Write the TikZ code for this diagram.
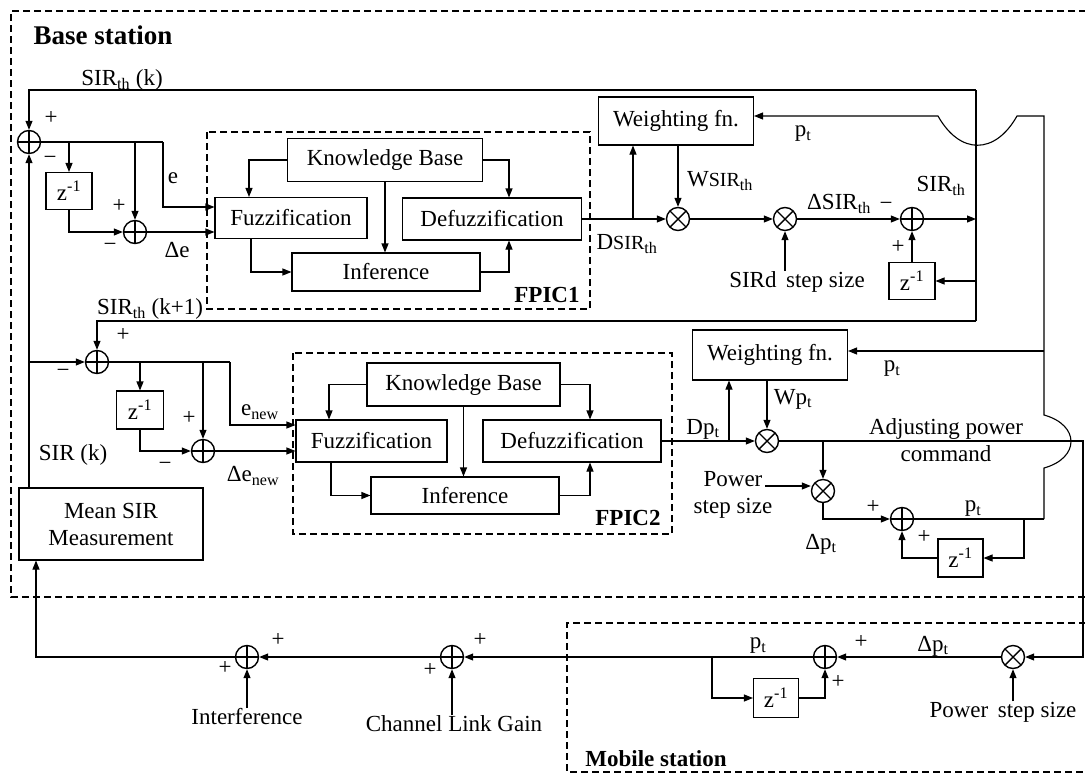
\documentclass[tikz,border=0pt]{standalone}
\usepackage{fontspec}
\setmainfont{Liberation Serif}
\usetikzlibrary{arrows.meta,calc}
\newcommand{\sbs}[1]{\textsubscript{#1}}
\newcommand{\zinv}{z\textsuperscript{-1}}
\newcommand{\smsir}{{\fontsize{20}{24}\selectfont SIR}}
\begin{document}
\begin{tikzpicture}[x=1pt,y=-1pt,line width=1.1pt,
  >={Triangle[length=9pt,width=7pt]},
  font=\fontsize{23}{27}\selectfont,
  blk/.style={draw, rectangle, inner sep=0pt, line width=1.1pt},
  sumc/.style={draw, circle, minimum size=23pt, inner sep=0pt, line width=1.4pt,
    path picture={\draw[line width=1.4pt] (path picture bounding box.north) -- (path picture bounding box.south) (path picture bounding box.west) -- (path picture bounding box.east);}},
  mulc/.style={draw, circle, minimum size=23pt, inner sep=0pt, line width=1.4pt,
    path picture={\draw[line width=1.4pt] (path picture bounding box.north west) -- (path picture bounding box.south east) (path picture bounding box.north east) -- (path picture bounding box.south west);}},
  lbl/.style={inner sep=0pt},
  frame/.style={line width=1.1pt, dash pattern=on 7pt off 4pt},
  ttl/.style={inner sep=0pt, font=\fontsize{23}{27}\selectfont\bfseries},
]
\useasboundingbox (0,0) rectangle (1085,774);
\fill[white] (0,0) rectangle (1085,774);

% ---------- frames ----------
\draw[frame] (1086,11) -- (11,11) -- (11,597) -- (1086,597);
\draw[frame] (1086,623) -- (567,623) -- (567,772) -- (1086,772);
\draw[frame] (207,132) rectangle (590,309);
\draw[frame] (293,353) rectangle (672,534);
\node[ttl, font=\fontsize{27}{30}\selectfont\bfseries, anchor=base west] at (33,44) {Base station};
\node[ttl] at (547,295) {FPIC1};
\node[ttl] at (628,518) {FPIC2};
\node[ttl] at (656,759) {Mobile station};

% ---------- upper loop (FPIC1) ----------
\node[sumc] (s1) at (29,142) {};
\node[blk, minimum width=46pt, minimum height=37pt] (z1) at (69,191) {\zinv};
\node[sumc] (s2) at (135,232) {};
\node[blk, minimum width=152pt, minimum height=41pt] (fz1) at (291,218) {Fuzzification};
\node[blk, minimum width=195pt, minimum height=43pt] (kb1) at (385,160) {Knowledge Base};
\node[blk, minimum width=179pt, minimum height=42pt] (df1) at (492,219) {Defuzzification};
\node[blk, minimum width=188pt, minimum height=38pt] (in1) at (386,272) {Inference};
\node[blk, minimum width=155pt, minimum height=48pt] (wf1) at (676,121) {Weighting fn.};
\node[mulc] (m1) at (678,219) {};
\node[mulc] (m2) at (785,219) {};
\node[sumc] (s3) at (912,219) {};
\node[blk, minimum width=46pt, minimum height=37pt] (z3) at (912,281) {\zinv};
\node[lbl] (sst) at (797,282) {SIRd\, step size};

\coordinate (tr) at (976,90);
\coordinate (br) at (976,321);
\coordinate (e1) at (163,142);
\coordinate (b1) at (633,219);

\draw (tr) -- (br);
\draw[->] (tr) -| (s1.north);
\draw (s1.east) -- (e1);
\draw[->] (z1.north |- s1) -- (z1.north);
\draw[->] (s2.north |- s1) -- (s2.north);
\draw[->] (z1.south) |- (s2.west);
\draw[->] (s2.east) -- (s2.east -| fz1.west);
\draw[->] (e1) |- ([yshift=11pt]fz1.west);
\draw[->] (kb1.west) -| ([xshift=-42pt]fz1.north);
\draw[->] (kb1.east) -| ([xshift=17pt]df1.north);
\draw[->] (kb1.south) -- (kb1.south |- in1.north);
\draw[->] ([xshift=-40pt]fz1.south) |- (in1.west);
\draw[->] (in1.east) -| ([xshift=17pt]df1.south);
\draw[->] (df1.east) -- (m1.west);
\draw[->] (b1) -- (b1 |- wf1.south);
\draw[->] (m1 |- wf1.south) -- (m1.north);
\draw[->] (m1.east) -- (m2.west);
\draw[->] (m2.east) -- (s3.west);
\draw[->] (m2.south |- sst.north) -- (m2.south);
\draw[->] (s3.east) -- (s3.east -| tr);
\draw[->] (tr |- z3.east) -- (z3.east);
\draw[->] (z3.north) -- (s3.south);

\node[lbl] at (122,80) {SIR\sbs{th} (k)};
\node[lbl] at (51,118) {+};
\node[lbl] at (50,160) {−};
\node[lbl] at (119,206) {+};
\node[lbl] at (110,247) {−};
\node[lbl] at (173,178) {e};
\node[lbl] at (177,250) {Δe};
\node[lbl] at (803,134) {p\sbs{t}};
\node[lbl] at (720,181) {W\smsir\sbs{th}};
\node[lbl] at (627,244) {D\smsir\sbs{th}};
\node[lbl] at (839,204) {ΔSIR\sbs{th}};
\node[lbl] at (886,206) {−};
\node[lbl] at (941,186) {SIR\sbs{th}};
\node[lbl] at (898,247) {+};

% ---------- lower loop (FPIC2) ----------
\node[sumc] (s4) at (97,362) {};
\node[blk, minimum width=47pt, minimum height=38pt] (z2) at (140,410) {\zinv};
\node[sumc] (s5) at (203,451) {};
\node[blk, minimum width=151pt, minimum height=42pt] (fz2) at (371.5,441) {Fuzzification};
\node[blk, minimum width=193pt, minimum height=43pt] (kb2) at (463.5,384.5) {Knowledge Base};
\node[blk, minimum width=178pt, minimum height=42pt] (df2) at (572,441) {Defuzzification};
\node[blk, minimum width=188pt, minimum height=37pt] (in2) at (465,495.5) {Inference};
\node[blk, minimum width=155pt, minimum height=50pt] (wf2) at (770,355) {Weighting fn.};
\node[mulc] (m4) at (767,441) {};
\node[mulc] (m6) at (823,491) {};
\node[sumc] (s6) at (902,519) {};
\node[blk, minimum width=45pt, minimum height=38pt] (z6) at (960.5,558) {\zinv};
\node[blk, minimum width=184pt, minimum height=72pt, align=center] (ms) at (111,524) {Mean SIR\\Measurement};
\node[lbl, align=center] (psl) at (733,495) {Power\\step size};

% ---------- bottom nodes ----------
\node[sumc] (s7) at (247,657) {};
\node[sumc] (s8) at (452,657) {};
\node[sumc] (s9) at (825,657) {};
\node[mulc] (m5) at (1013,657) {};
\node[blk, minimum width=45pt, minimum height=39pt] (z7) at (776,698) {\zinv};
\node[lbl] (intf) at (247,717) {Interference};
\node[lbl] (clg) at (454,724) {Channel Link Gain};
\node[lbl] (pss) at (1003,712) {Power\, step size};

\coordinate (e2) at (230,362);
\coordinate (b2) at (729,441);
\coordinate (b3) at (823,441);
\coordinate (pw) at (765,486);
\coordinate (pt1) at (1044,519);
\coordinate (b4) at (1024,519);
\coordinate (pj2) at (1044,351);
\coordinate (rc1) at (1083,441);
\coordinate (rc2) at (1083,657);
\coordinate (b5) at (712,657);

\draw[->] (br) -| (s4.north);
\draw[->] (ms.north -| s1) -- (s1.south);
\draw[->] (s1 |- s4) -- (s4.west);
\draw (s4.east) -- (e2);
\draw[->] (z2.north |- s4) -- (z2.north);
\draw[->] (s5.north |- s4) -- (s5.north);
\draw[->] (z2.south) |- (s5.west);
\draw[->] (s5.east) -- (s5.east -| fz2.west);
\draw[->] (e2) |- ([yshift=16pt]fz2.west);
\draw[->] (kb2.west) -| ([xshift=-42.5pt]fz2.north);
\draw[->] (kb2.east) -| ([xshift=18pt]df2.north);
\draw[->] (kb2.south) -- (kb2.south |- in2.north);
\draw[->] ([xshift=-40.5pt]fz2.south) |- (in2.west);
\draw[->] (in2.east) -| ([xshift=18pt]df2.south);
\draw[->] (df2.east) -- (m4.west);
\draw[->] (b2) -- (b2 |- wf2.south);
\draw[->] (m4 |- wf2.south) -- (m4.north);
\draw[->] (m4.east) -- (rc1) -- (rc2) -- (m5.east);
\draw[->] (b3) -- (m6.north);
\draw[->] (pw) -- (pw -| m6.west);
\draw[->] (m6.south) |- (s6.west);
\draw (s6.east) -- (pt1);
\draw[->] (b4) |- (z6.east);
\draw[->] (z6.west) -| (s6.south);
\draw[->] (pt1) -- (1044,468) .. controls (1080,458) and (1080,425) .. (1044,415)
   -- (1044,116) -- (1017,116) .. controls (995,155) and (960,155) .. (938,116)
   -- ([yshift=5pt]wf1.east);
\draw[->] (pj2) -- (pj2 -| wf2.east);

\node[lbl] at (150,309) {SIR\sbs{th} (k+1)};
\node[lbl] at (123,335) {+};
\node[lbl] at (63,373) {−};
\node[lbl] at (189,418) {+};
\node[lbl] at (165,466) {−};
\node[lbl] at (260,412) {e\sbs{new}};
\node[lbl] at (253,476) {Δe\sbs{new}};
\node[lbl] at (73,455) {SIR (k)};
\node[lbl] at (703,429) {Dp\sbs{t}};
\node[lbl] at (793,399) {Wp\sbs{t}};
\node[lbl] at (892,369) {p\sbs{t}};
\node[lbl, align=center] at (946,440) {Adjusting power\\command};
\node[lbl] at (873,507) {+};
\node[lbl] at (821,544) {Δp\sbs{t}};
\node[lbl] at (973,509) {p\sbs{t}};
\node[lbl] at (924,537) {+};

% ---------- bottom connectors ----------
\draw[->] (s7.west) -| ([xshift=-75pt]ms.south);
\draw[->] (s8.west) -- (s7.east);
\draw[->] (s9.west) -- (s8.east);
\draw[->] (m5.west) -- (s9.east);
\draw[->] (intf.north) -- (s7.south);
\draw[->] (s8.south |- clg.north) -- (s8.south);
\draw[->] (m5.south |- pss.north) -- (m5.south);
\draw[->] (b5) |- (z7.west);
\draw[->] (z7.east) -| (s9.south);

\node[lbl] at (278,640) {+};
\node[lbl] at (225,668) {+};
\node[lbl] at (480,640) {+};
\node[lbl] at (430,670) {+};
\node[lbl] at (758,646) {p\sbs{t}};
\node[lbl] at (861,642) {+};
\node[lbl] at (933,646) {Δp\sbs{t}};
\node[lbl] at (838,682) {+};
\end{tikzpicture}
\end{document}
